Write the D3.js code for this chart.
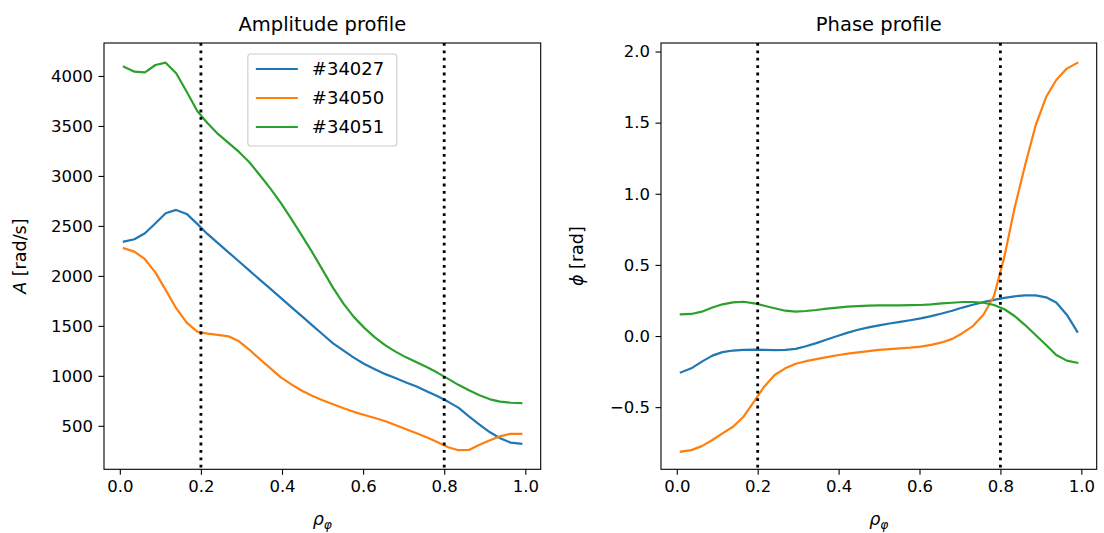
<!DOCTYPE html>
<html><head><meta charset="utf-8">
<script src="https://cdn.jsdelivr.net/npm/d3@7/dist/d3.min.js"></script>
<style>body{margin:0;background:#fff}svg{display:block}text{font-family:"DejaVu Sans",sans-serif}</style>
</head><body>
<svg id="chart" width="1104" height="533"></svg>
<script>
// ---- data ----
const rho = [0.010,0.036,0.062,0.088,0.113,0.139,0.165,0.191,0.216,0.242,0.268,0.294,0.319,0.345,0.371,0.397,0.423,0.448,0.474,0.500,0.526,0.552,0.577,0.603,0.629,0.655,0.681,0.706,0.732,0.758,0.784,0.810,0.835,0.861,0.887,0.913,0.938,0.964,0.990];
const seriesNames = ["#34027","#34050","#34051"];
const amp34027 = [2343,2367,2427,2527,2627,2660,2620,2520,2420,2328,2236,2144,2055,1963,1872,1780,1688,1600,1508,1416,1325,1252,1182,1119,1067,1017,975,934,893,843,795,740,682,595,513,435,375,332,320];
const amp34050 = [2277,2243,2167,2033,1860,1677,1533,1443,1423,1410,1395,1345,1263,1168,1077,985,915,853,800,755,715,676,640,608,578,545,505,465,425,383,335,285,256,258,310,355,395,420,420];
const amp34051 = [4093,4043,4037,4110,4133,4027,3843,3650,3530,3420,3330,3240,3140,3010,2875,2730,2570,2410,2240,2060,1880,1720,1590,1480,1385,1305,1240,1185,1135,1085,1030,970,910,855,805,765,742,731,728];
const ph34027 = [-0.256,-0.227,-0.18,-0.138,-0.113,-0.102,-0.097,-0.096,-0.097,-0.099,-0.098,-0.09,-0.072,-0.05,-0.025,0.0,0.024,0.044,0.061,0.075,0.088,0.1,0.111,0.124,0.14,0.158,0.178,0.2,0.22,0.238,0.254,0.268,0.279,0.286,0.286,0.272,0.236,0.15,0.03];
const ph34050 = [-0.813,-0.802,-0.774,-0.731,-0.684,-0.638,-0.567,-0.462,-0.356,-0.274,-0.227,-0.195,-0.177,-0.162,-0.148,-0.135,-0.124,-0.115,-0.106,-0.098,-0.092,-0.087,-0.082,-0.074,-0.062,-0.045,-0.02,0.02,0.07,0.15,0.28,0.56,0.9,1.2,1.48,1.68,1.8,1.88,1.92];
const ph34051 = [0.152,0.155,0.171,0.2,0.223,0.237,0.241,0.23,0.213,0.195,0.178,0.171,0.176,0.183,0.192,0.2,0.206,0.21,0.213,0.216,0.216,0.216,0.217,0.218,0.223,0.23,0.234,0.239,0.239,0.234,0.218,0.188,0.141,0.077,0.007,-0.063,-0.134,-0.173,-0.188];
const vlines = [0.2, 0.8];
const xTicks = [0.0,0.2,0.4,0.6,0.8,1.0];
const ampTicks = [500,1000,1500,2000,2500,3000,3500,4000];
const phTicks = [-0.5,0.0,0.5,1.0,1.5,2.0];
const colors = ["#1f77b4","#ff7f0e","#2ca02c"];

// ---- layout ----
const svg = d3.select("#chart");
const FS = 16.5, LFS = 17.5, TL = 5.5, PAD = 5.5;
const fmt1 = v => d3.format(".1f")(v).replace("-", "\u2212");

function panel(box, yDomain, yTicks, yFmt, series, title, ylabel) {
  const x = d3.scaleLinear().domain([-0.039, 1.038]).range([box.left, box.right]);
  const y = d3.scaleLinear().domain(yDomain).range([box.bottom, box.top]);
  const g = svg.append("g");
  const clipId = "clip" + Math.round(box.left);
  svg.append("clipPath").attr("id", clipId).append("rect")
    .attr("x", box.left).attr("y", box.top).attr("width", box.right - box.left).attr("height", box.bottom - box.top);
  const line = d3.line().x((d,i) => x(rho[i])).y(d => y(d));
  const plot = g.append("g").attr("clip-path", `url(#${clipId})`);
  series.forEach((s, k) => {
    plot.append("path").datum(s).attr("d", line).attr("fill", "none")
      .attr("stroke", colors[k]).attr("stroke-width", 2.2).attr("stroke-linejoin","round").attr("stroke-linecap","square");
  });
  vlines.forEach(v => {
    plot.append("line").attr("x1", x(v)).attr("x2", x(v)).attr("y1", box.top).attr("y2", box.bottom)
      .attr("stroke", "#000").attr("stroke-width", 2.8).attr("stroke-dasharray", "2.8,4.6");
  });
  // axes
  const xa = g.append("g").attr("transform", `translate(0,${box.bottom})`)
    .call(d3.axisBottom(x).tickValues(xTicks).tickFormat(fmt1).tickSize(TL).tickPadding(PAD));
  const ya = g.append("g").attr("transform", `translate(${box.left},0)`)
    .call(d3.axisLeft(y).tickValues(yTicks).tickFormat(yFmt).tickSize(TL).tickPadding(PAD));
  [xa, ya].forEach(a => {
    a.select(".domain").remove();
    a.selectAll("line").attr("stroke", "#000").attr("stroke-width", 1.1);
    a.selectAll("text").attr("font-size", FS).attr("font-family", "DejaVu Sans").attr("fill", "#000");
  });
  g.append("rect").attr("x", box.left).attr("y", box.top).attr("width", box.right - box.left)
    .attr("height", box.bottom - box.top).attr("fill", "none").attr("stroke", "#000").attr("stroke-width", 1.1);
  const cx = (box.left + box.right) / 2;
  g.append("text").attr("x", cx).attr("y", box.top - 12).attr("text-anchor", "middle")
    .attr("font-size", 19.5).attr("fill", "#000").text(title);
  // x label rho_phi
  const xl = g.append("text").attr("x", cx).attr("y", 525).attr("text-anchor", "middle").attr("font-size", LFS).attr("fill", "#000");
  xl.append("tspan").attr("font-style", "italic").text("ρ");
  xl.append("tspan").attr("font-style", "italic").attr("font-size", LFS * 0.7).attr("dy", 4).text("φ");
  // y label
  const yl = g.append("text").attr("transform", `translate(${box.left - 78},${(box.top + box.bottom) / 2}) rotate(-90)`)
    .attr("text-anchor", "middle").attr("font-size", LFS).attr("fill", "#000");
  yl.append("tspan").attr("font-style", "italic").text(ylabel[0]);
  yl.append("tspan").text(ylabel[1]);
  return {x, y, g};
}

const axL = {left: 104, right: 540.7, top: 43, bottom: 469.3};
const axR = {left: 661, right: 1096.7, top: 43, bottom: 469.3};

panel(axL, [65, 4330], ampTicks, d3.format("d"), [amp34027, amp34050, amp34051], "Amplitude profile", ["A", " [rad/s]"]);
panel(axR, [-0.937, 2.06], phTicks, fmt1, [ph34027, ph34050, ph34051], "Phase profile", ["ϕ", " [rad]"]);

// legend
const lw = 149, lh = 92;
const lx = (axL.left + axL.right) / 2 - lw / 2, ly = axL.top + 11;
const leg = svg.append("g");
leg.append("rect").attr("x", lx).attr("y", ly).attr("width", lw).attr("height", lh).attr("rx", 3)
  .attr("fill", "#fff").attr("fill-opacity", 0.8).attr("stroke", "#ccc").attr("stroke-width", 1.1);
seriesNames.forEach((n, k) => {
  const yy = ly + 15 + k * 29;
  leg.append("line").attr("x1", lx + 8).attr("x2", lx + 50).attr("y1", yy).attr("y2", yy)
    .attr("stroke", colors[k]).attr("stroke-width", 2.2);
  leg.append("text").attr("x", lx + 64).attr("y", yy).attr("dy", "0.36em").attr("font-size", 18).attr("fill", "#000").text(n);
});
</script>
</body></html>
